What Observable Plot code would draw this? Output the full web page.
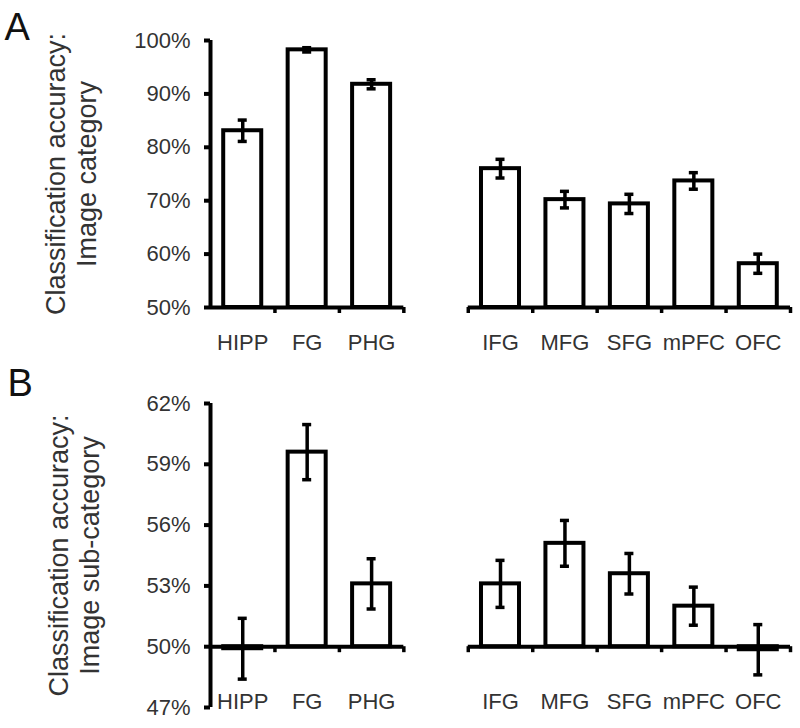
<!DOCTYPE html>
<html><head><meta charset="utf-8">
<script src="https://cdn.jsdelivr.net/npm/d3@7"></script>
<script src="https://cdn.jsdelivr.net/npm/@observablehq/plot@0.6"></script>
<style>
body{margin:0;background:#fff}
#chart svg{display:block}
</style>
</head><body><div id="chart"></div>
<script>
// ---- data ----
const regions = ["HIPP", "FG", "PHG", "IFG", "MFG", "SFG", "mPFC", "OFC"];
const slots = [0, 1, 2, 4, 5, 6, 7, 8];            // slot 3 is the gap between groups
const accCategory = [83.1, 98.25, 91.8, 76.0, 70.2, 69.4, 73.7, 58.2];
const errCategory = [2.0, 0.4, 0.85, 1.75, 1.55, 1.8, 1.55, 1.8];
const accSubCategory = [49.9, 59.6, 53.1, 53.1, 55.1, 53.6, 52.0, 49.85];
const errSubCategory = [1.5, 1.36, 1.24, 1.16, 1.13, 1.0, 0.94, 1.24];
const ticksA = [50, 60, 70, 80, 90, 100];
const ticksB = [47, 50, 53, 56, 59, 62];
const axisSegments = [[0, 3], [4, 9]];
const boundaries = [1, 2, 3, 4, 5, 6, 7, 8, 9];
const titleA = "Classification accuracy:\nImage category";
const titleB = "Classification accuracy:\nImage sub-category";

// ---- font choice ----
function hasFont(name) {
  const c = document.createElement("canvas").getContext("2d");
  const s = "100% HIPP mPFC OFC";
  c.font = "40px monospace"; const a = c.measureText(s).width;
  c.font = `40px '${name}', monospace`; const b = c.measureText(s).width;
  return Math.abs(a - b) > 0.5;
}
const narrow = hasFont("Liberation Sans Narrow");
const labelFont = narrow ? "'Liberation Sans Narrow', 'Liberation Sans', Arial, sans-serif" : "'Liberation Sans', Arial, sans-serif";
const labelSize = narrow ? 26 : 22;
const textColor = "#333";

function panel({letter, values, errors, ticks, domain, title, marginTop, marginBottom, labelY, labelDy, titleDx, letterDx, letterDy}) {
  const base = 50;
  const data = regions.map((r, i) => ({region: r, slot: slots[i], v: values[i], e: errors[i]}));
  return Plot.plot({
    width: 800, height: 364,
    marginLeft: 210, marginRight: 10, marginTop, marginBottom,
    x: {domain: [0, 9], axis: null},
    y: {domain, axis: null},
    style: {fontFamily: labelFont, background: "white", overflow: "visible"},
    marks: [
      Plot.rectY(data, {x1: d => d.slot + 0.205, x2: d => d.slot + 0.795, y1: base, y2: "v",
        fill: "white", stroke: "black", strokeWidth: 4}),
      Plot.ruleY(axisSegments, {x1: d => d[0], x2: d => d[1], y: base, stroke: "black", strokeWidth: 4}),
      Plot.ruleX(boundaries, {x: d => d, y1: base, y2: base, insetBottom: -6, stroke: "black", strokeWidth: 3.5}),
      Plot.ruleX([0], {stroke: "black", strokeWidth: 4}),
      Plot.axisY({ticks, tickSize: 6, tickPadding: 14, strokeWidth: 4, stroke: "black", fill: textColor,
        tickFormat: d => d + "%", fontSize: labelSize, label: null}),
      Plot.ruleX(data, {x: d => d.slot + 0.5, y1: d => d.v - d.e, y2: d => d.v + d.e, stroke: "black", strokeWidth: 3.5}),
      Plot.ruleY(data, {x1: d => d.slot + 0.43, x2: d => d.slot + 0.57, y: d => d.v + d.e, stroke: "black", strokeWidth: 3.5}),
      Plot.ruleY(data, {x1: d => d.slot + 0.43, x2: d => d.slot + 0.57, y: d => d.v - d.e, stroke: "black", strokeWidth: 3.5}),
      Plot.text(data, {x: d => d.slot + 0.5, y: labelY, text: "region", dy: labelDy, lineAnchor: "middle",
        fontSize: labelSize, fill: textColor}),
      Plot.text([title], {frameAnchor: "left", rotate: -90, dx: titleDx, textAnchor: "middle", lineAnchor: "middle",
        fontSize: 27, lineHeight: 1.15, fill: textColor, fontFamily: "'Liberation Sans', Arial, sans-serif"}),
      Plot.text([letter], {frameAnchor: "top-left", dx: letterDx, dy: letterDy, textAnchor: "start", lineAnchor: "middle",
        fontSize: 38, fill: "#111", fontFamily: "'Liberation Sans', Arial, sans-serif"})
    ]
  });
}

const root = document.getElementById("chart");
root.append(panel({
  letter: "A", values: accCategory, errors: errCategory, ticks: ticksA, domain: [50, 100], title: titleA,
  marginTop: 40, marginBottom: 57, labelY: 50, labelDy: 35, titleDx: -140, letterDx: -206, letterDy: -13
}));
root.append(panel({
  letter: "B", values: accSubCategory, errors: errSubCategory, ticks: ticksB, domain: [47, 62], title: titleB,
  marginTop: 39, marginBottom: 21, labelY: 47, labelDy: -6, titleDx: -137, letterDx: -203, letterDy: -20
}));
</script></body></html>
